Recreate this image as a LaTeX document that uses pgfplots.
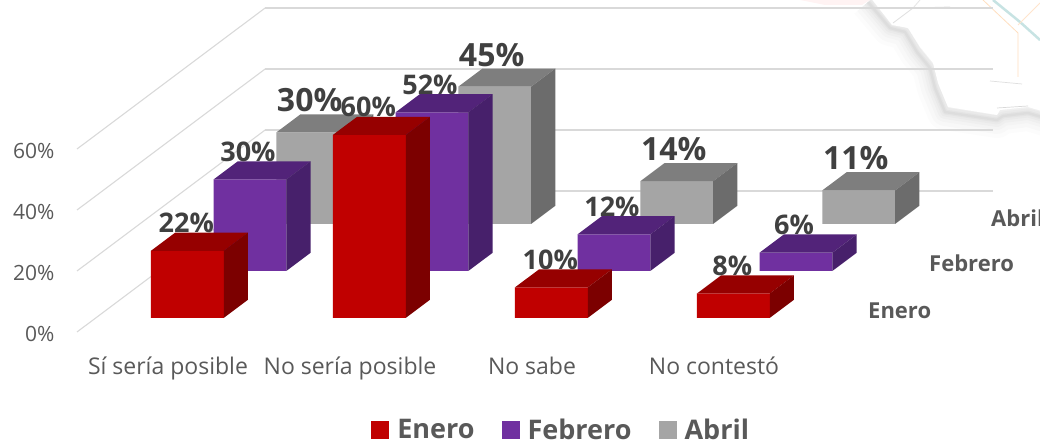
\documentclass[border=0pt]{standalone}
\usepackage{pgfplots}
\pgfplotsset{compat=1.18}
\usepackage{fontspec}
\setmainfont{Open Sans}
\definecolor{rojoF}{HTML}{C00000}\definecolor{rojoT}{HTML}{960000}\definecolor{rojoS}{HTML}{7C0000}
\definecolor{moraF}{HTML}{7030A0}\definecolor{moraT}{HTML}{522379}\definecolor{moraS}{HTML}{47206B}
\definecolor{grisF}{HTML}{A5A5A5}\definecolor{grisT}{HTML}{7E7E7E}\definecolor{grisS}{HTML}{6C6C6C}
\definecolor{txt}{HTML}{595959}\definecolor{lab}{HTML}{404040}
% x0 x1 y0 y1 value colour size xshift yshift
\newcommand{\barra}[9]{%
 \addplot3[fill=#6F,draw=none,forget plot] coordinates {(#1,#3,0) (#2,#3,0) (#2,#3,#5) (#1,#3,#5) (#1,#3,0)};
 \addplot3[fill=#6T,draw=none,forget plot] coordinates {(#1,#3,#5) (#2,#3,#5) (#2,#4,#5) (#1,#4,#5) (#1,#3,#5)};
 \addplot3[fill=#6S,draw=none,forget plot] coordinates {(#2,#3,0) (#2,#4,0) (#2,#4,#5) (#2,#3,#5) (#2,#3,0)};
 \node[font=\fontsize{#7}{#7}\selectfont\bfseries,text=lab,inner sep=0pt,xshift=#8pt,yshift=#9pt] at (axis cs:#1+0.2,#3+0.19,#5) {#5\%};
}
\begin{document}
\begin{tikzpicture}[x=1pt,y=1pt]
\useasboundingbox (0,0) rectangle (1040,443);
\clip (0,0) rectangle (1040,443);
% faint map in the background
\begin{scope}[yscale=-1,yshift=-443pt]
 \fill[red!8!white,opacity=.6] (800,0) -- (870,0) -- (862,5) -- (825,5) -- cycle;
 \foreach \w/\o in {36/.012,28/.014,20/.016,14/.018,9/.02,5/.025,2.5/.03}{
  \draw[black,opacity=\o,line width=\w pt,line join=round] (868,2) -- (890,28) -- (905,32) -- (917,52) -- (930,68) -- (935,88) -- (945,112) -- (997,120) -- (1003,116) -- (1028,113) -- (1045,118);}
 \fill[white] (870,-3) -- (892,25) -- (908,28) -- (920,47) -- (933,63) -- (938,83) -- (948,107) -- (997,115) -- (1000,110) -- (1028,107) -- (1045,112) -- (1045,-3) -- cycle;
 \draw[gray!25,line width=.8pt] (893,23) -- (913,8) -- (950,7);
 \draw[gray!20,line width=.8pt] (913,8) -- (920,0);
 \draw[teal!22,line width=2.5pt] (993,0) -- (1020,22) -- (1040,40);
 \draw[orange!25,line width=.8pt] (983,0) -- (1018,33) -- (1018,77);
 \draw[orange!20,line width=.8pt] (1018,25) -- (1040,3);
 \draw[gray!30,line width=.7pt] (997,108) -- (1028,106);
 \draw[gray!25,line width=.7pt] (990,81) -- (1022,84);
\end{scope}
\begin{axis}[
  at={(77pt,111pt)},anchor=origin,
  x={(182pt,0pt)},y={(62.7pt,47pt)},z={(0pt,3.05pt)},
  xmin=0,xmax=4,ymin=0,ymax=3,zmin=0,zmax=60,
  clip=false,
  axis line style={draw=none},
  tick style={draw=none},
  zmajorgrids=true,
  major grid style={draw=black!15,line width=1.1pt},
  xtick={0.5,1.5,2.5,3.5},
  xticklabels={Sí sería posible,No sería posible,No sabe,No contestó},
  ytick=\empty,
  ztick={0,20,40,60},
  zticklabels={0\%,20\%,40\%,60\%},
  xticklabel style={font=\fontsize{23}{27}\selectfont,text=txt,yshift=-21pt,anchor=north},
  zticklabel style={font=\fontsize{21}{25}\selectfont,text=txt,anchor=east,xshift=-19pt,yshift=-1.5pt},
  legend columns=3,
  legend style={draw=none,fill=none,at={(axis description cs:0.5285,-0.302)},anchor=center,
    font=\fontsize{27}{28}\selectfont\bfseries,text=txt,
    /tikz/every even column/.append style={column sep=25pt}},
  legend image code/.code={\fill[#1] (0pt,-9pt) rectangle (18pt,9pt);\path (24pt,0pt);},
]
\addlegendimage{fill=rojoF,draw=none}\addlegendentry{Enero}
\addlegendimage{fill=moraF,draw=none}\addlegendentry{Febrero}
\addlegendimage{fill=grisF,draw=none}\addlegendentry{Abril}
% Abril
\barra{0.303}{0.703}{2.30}{2.685}{30}{gris}{32}{-15}{23}
\barra{1.303}{1.703}{2.30}{2.685}{45}{gris}{32}{-15}{23}
\barra{2.303}{2.703}{2.30}{2.685}{14}{gris}{32}{-15}{23}
\barra{3.303}{3.703}{2.30}{2.685}{11}{gris}{32}{-15}{23}
% Febrero
\barra{0.303}{0.703}{1.30}{1.685}{30}{mora}{27}{-14}{19}
\barra{1.303}{1.703}{1.30}{1.685}{52}{mora}{27}{-14}{19}
\barra{2.303}{2.703}{1.30}{1.685}{12}{mora}{27}{-14}{19}
\barra{3.303}{3.703}{1.30}{1.685}{6}{mora}{27}{-14}{19}
% Enero
\barra{0.303}{0.703}{0.30}{0.685}{22}{rojo}{27}{-13}{19}
\barra{1.303}{1.703}{0.30}{0.685}{60}{rojo}{27}{-13}{19}
\barra{2.303}{2.703}{0.30}{0.685}{10}{rojo}{27}{-13}{19}
\barra{3.303}{3.703}{0.30}{0.685}{8}{rojo}{27}{-13}{19}
\end{axis}
\node[font=\fontsize{22}{22}\selectfont\bfseries,text=txt,anchor=west,inner sep=0pt] at (868,132) {Enero};
\node[font=\fontsize{22}{22}\selectfont\bfseries,text=txt,anchor=west,inner sep=0pt] at (929,180) {Febrero};
\node[font=\fontsize{22}{22}\selectfont\bfseries,text=txt,anchor=west,inner sep=0pt] at (991,225) {Abril};
\end{tikzpicture}
\end{document}
